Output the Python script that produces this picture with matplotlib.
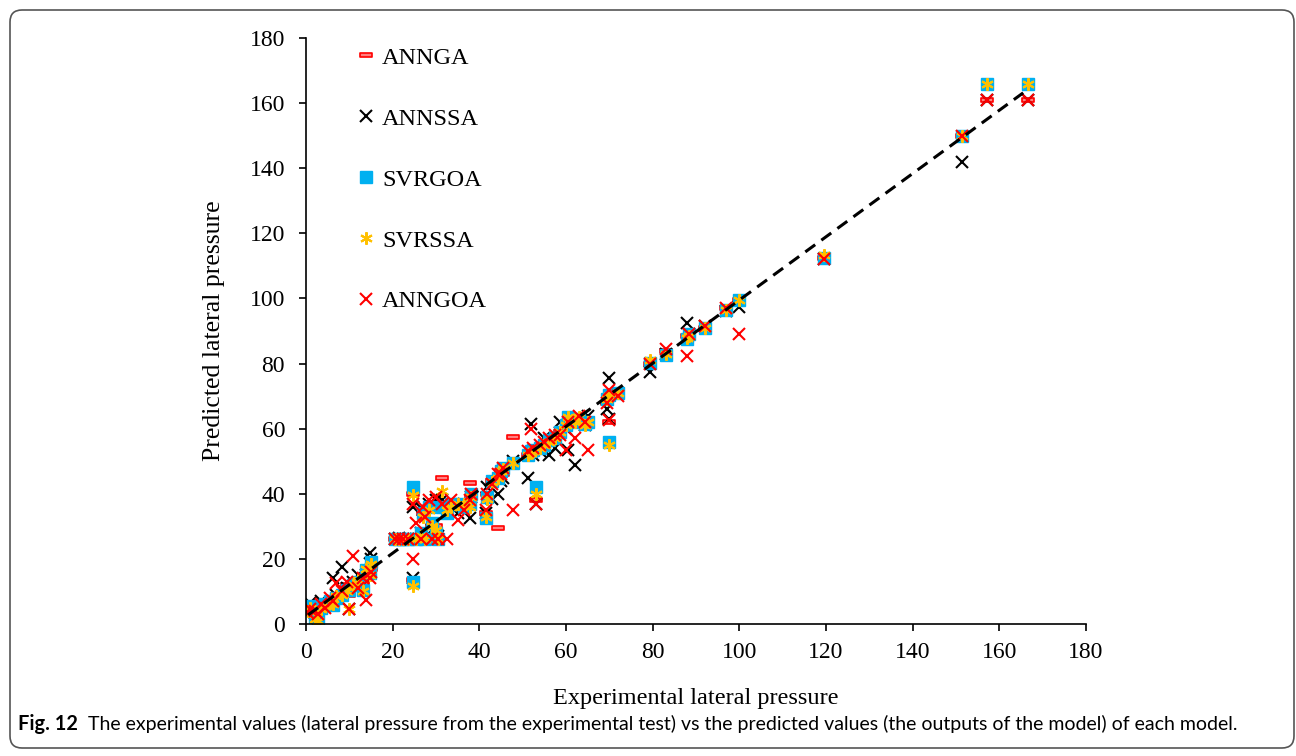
import numpy as np
import matplotlib
matplotlib.use('Agg')
import matplotlib.pyplot as plt
from matplotlib.path import Path
from matplotlib.patches import FancyBboxPatch
from matplotlib.transforms import IdentityTransform

# experimental lateral pressure (x) and each model's prediction (y)
experimental = [0.5, 1.0, 2.0, 2.8, 3.5, 4.5, 5.5, 6.3, 7.0, 8.3,
                9.5, 10.0, 10.8, 12.0, 13.2, 13.8, 14.8, 15.0,
                20.5, 21.5, 22.5, 23.5, 24.7, 24.7, 25.5, 26.5, 27.0, 27.5, 28.5, 29.0,
                30.0, 30.5, 31.4, 32.5, 33.5, 35.0, 36.5, 37.8, 38.0,
                41.5, 41.7, 43.0, 44.3, 45.0, 45.5, 47.8, 51.2, 52.0, 52.5, 53.0,
                54.0, 55.0, 56.0, 57.5, 58.6, 60.0, 60.5, 62.0, 63.0, 64.4, 65.0,
                69.5, 70.0, 70.0, 72.0,
                79.5, 83.0, 88.0, 88.5, 92.0, 97.0, 100.0, 119.5, 151.4, 157.2, 166.6]
svrgoa = [4.5, 5.5, 2.0, 1.5, 5.0, 6.0, 7.0, 5.8, 8.0, 9.0,
          10.5, 10.4, 12.0, 13.0, 10.4, 16.6, 15.7, 19.0,
          26, 26, 26, 26, 42, 13, 26, 28, 34, 26, 36, 31,
          28, 26, 36, 34, 37, 37, 36, 37, 40,
          32.5, 39, 44, 45, 47, 48, 49.4, 52, 53, 53.5, 42,
          54, 55, 56.5, 57, 59, 61, 63.6, 62, 63, 61.4, 62,
          69, 70.3, 56, 71,
          80.2, 82.6, 87.5, 89, 91, 96.4, 99.5, 112.5, 150, 165.8, 165.8]
svrssa = [4.0, 5.0, 1.5, 1.0, 4.5, 5.5, 6.5, 6.0, 8.5, 9.0,
          10.0, 4.5, 12.0, 13.5, 10.0, 17.0, 15.0, 18.5,
          26, 26, 26, 26, 39.5, 11.8, 26, 27, 33, 26, 35, 30,
          29, 26, 41, 35, 36, 37, 37, 36, 39,
          33, 38.5, 43.5, 45, 47, 47.5, 49.5, 52, 52.5, 53, 40,
          54, 55, 56, 57, 59, 61, 63.5, 62, 63.5, 61, 62,
          69, 70, 55, 71,
          81, 83, 88, 88.5, 91, 96.5, 99.5, 113.5, 150, 165.8, 165.8]
anngoa = [3.5, 4.5, 4.0, 3.0, 6.0, 5.0, 8.0, 7.0, 12.5, 10.0,
          13.0, 4.5, 21.0, 11.0, 14.0, 7.5, 14.0, 16.0,
          26, 26, 26, 26, 37, 20, 31, 26, 36, 33, 38, 26,
          39, 26, 37, 26, 38, 32, 35, 38, 40,
          35, 40, 43, 46, 46, 48, 35, 53, 60, 54, 37,
          55, 56, 57, 58, 58, 53.4, 62, 57, 64, 62, 53.4,
          68, 72, 62.6, 70,
          80, 84.5, 82.3, 89, 91.5, 97, 89, 112, 150, 161, 161]
annssa = [5.5, 6.5, 3.5, 4.5, 7.0, 5.5, 6.5, 14.0, 9.0, 17.5,
          11.0, 4.5, 13.0, 15.0, 12.0, 15.0, 21.8, 20.0,
          26, 26.5, 26, 26, 36, 14, 26, 28, 35, 26, 37, 29,
          38, 27, 38, 36, 36, 34, 37, 32.5, 39,
          34, 42, 38.4, 40, 44, 45, 50, 45, 61.4, 52, 37,
          53, 57, 52, 54, 62, 60, 53.5, 48.8, 62, 61, 64,
          66, 75.6, 63, 71,
          77.5, 83, 92.5, 89, 91.5, 96, 97.5, 112, 142, 161, 161]
annga = [4.0, 5.0, 3.0, 3.5, 5.5, 6.0, 7.0, 8.0, 7.5, 9.5,
         12.0, 9.0, 12.5, 13.0, 12.5, 14.0, 16.0, 17.0,
         26, 26, 26, 26, 40, 13.5, 26, 27, 34, 26, 36, 30,
         30, 26, 45, 35, 37, 36, 36, 43.3, 39,
         34, 40, 44, 29.5, 47, 46, 57.4, 52, 53, 53, 38,
         54, 55, 56, 57, 59, 60, 62, 62, 63, 62, 63,
         68, 70, 62, 71,
         80, 84, 88.5, 88, 91, 97, 99.5, 112.5, 150, 161, 161]

# linear trend line
trend_x = [0.5, 165.5]
trend_slope = 0.972
trend_intercept = 2.3

plt.rcParams['font.family'] = ['Liberation Serif', 'DejaVu Serif']

fig = plt.figure(figsize=(12.96, 7.56), dpi=100)
ax = fig.add_axes([0.236, 0.1746, 0.602, 0.7751])

dash_marker = Path([(-1, -0.38), (1, -0.38), (1, 0.38), (-1, 0.38), (-1, -0.38)],
                   [Path.MOVETO, Path.LINETO, Path.LINETO, Path.LINETO, Path.CLOSEPOLY])

ax.plot(experimental, annga, ls='none', marker=dash_marker, ms=8, mfc='#ff8080',
        mec='red', mew=1.2, label='ANNGA')
ax.plot(experimental, annssa, ls='none', marker='x', ms=9, color='black',
        mew=1.5, label='ANNSSA')
ax.plot(experimental, svrgoa, ls='none', marker='s', ms=9, color='#00B0F0',
        mec='#00B0F0', label='SVRGOA')
ax.plot(experimental, svrssa, ls='none', marker=(6, 2, 0), ms=9, color='#FFC000',
        mew=1.5, label='SVRSSA')
ax.plot(experimental, anngoa, ls='none', marker='x', ms=9, color='red',
        mew=1.5, label='ANNGOA')

tx = np.array(trend_x)
ax.plot(tx, trend_slope * tx + trend_intercept, color='black', lw=2.2,
        ls=(0, (4, 2.5)), zorder=5)

ax.set_xlim(0, 180)
ax.set_ylim(0, 180)
ax.set_xticks(np.arange(0, 181, 20))
ax.set_yticks(np.arange(0, 181, 20))
ax.spines['top'].set_visible(False)
ax.spines['right'].set_visible(False)
for s in ['left', 'bottom']:
    ax.spines[s].set_linewidth(1.2)
ax.tick_params(direction='out', length=5, width=1.2, labelsize=17)
ax.tick_params(axis='y', pad=10)
ax.tick_params(axis='x', pad=8)
ax.set_xlabel('Experimental lateral pressure', fontsize=17.5, labelpad=18)
ax.set_ylabel('Predicted lateral pressure', fontsize=18.5, labelpad=18)

ax.legend(loc='upper left', bbox_to_anchor=(0.068, 0.985), frameon=False,
          fontsize=17.5, labelspacing=1.6, handlelength=0.6, handletextpad=0.35,
          borderaxespad=0, borderpad=0)

cap_y = 1 - 724 / 756
fig.text(18 / 1296, cap_y, 'Fig. 12', fontsize=14.4, fontweight='bold',
         family=['Lato', 'DejaVu Sans'], va='center')
fig.text(88 / 1296, cap_y,
         'The experimental values (lateral pressure from the experimental test) vs the predicted '
         'values (the outputs of the model) of each model.',
         fontsize=14.05, family=['Lato', 'DejaVu Sans'], va='center')

frame = FancyBboxPatch((10, 8), 1284, 738, boxstyle='round,pad=0,rounding_size=12',
                       transform=IdentityTransform(), fill=False, ec='#555555', lw=1.2)
fig.patches.append(frame)

fig.savefig('out.png', dpi=100)
